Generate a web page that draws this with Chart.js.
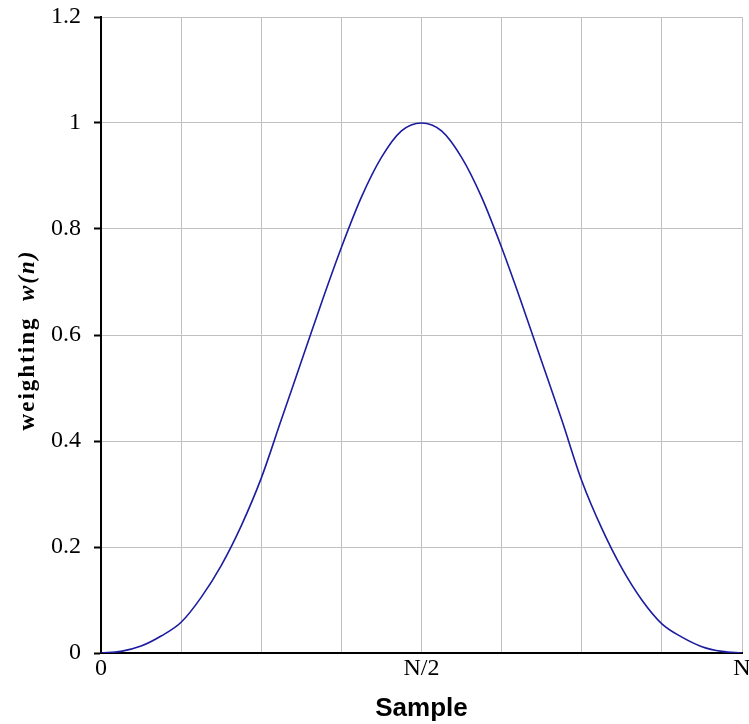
<!DOCTYPE html>
<html>
<head>
<meta charset="utf-8">
<script src="https://cdn.jsdelivr.net/npm/chart.js@4.4.1/dist/chart.umd.min.js"></script>
<style>
html,body{margin:0;padding:0;background:#fff;}
#wrap{position:relative;width:749px;height:724px;}
</style>
</head>
<body>
<div id="wrap"><canvas id="c" width="749" height="724"></canvas></div>
<script>
// Sample index (0..32 => 0..N)
const samples = [0,1,2,3,4,5,6,7,8,9,10,11,12,13,14,15,16,17,18,19,20,21,22,23,24,25,26,27,28,29,30,31,32];
// weighting w(n)
const weights = [0.000,0.003,0.013,0.032,0.058,0.105,0.165,0.240,0.330,0.440,0.550,0.660,0.765,0.860,0.935,0.985,1.000,
                 0.985,0.935,0.860,0.765,0.660,0.550,0.440,0.325,0.235,0.160,0.100,0.055,0.030,0.012,0.003,0.000];
const xTickValues = [0,16,32];
const xTickLabels = ['0','N/2','N'];
const xGridValues = [0,4,8,12,16,20,24,28,32];
const yTickValues = [0,0.2,0.4,0.6,0.8,1,1.2];
const yTitleParts = ['weighting  ','w(n)'];
const xTitle = 'Sample';

const yTitlePlugin = {
  id:'yTitle',
  afterDraw(chart){
    const ctx = chart.ctx;
    ctx.save();
    ctx.translate(28, 340);
    ctx.rotate(-Math.PI/2);
    ctx.fillStyle = '#000';
    ctx.textBaseline = 'middle';
    ctx.textAlign = 'left';
    let scaleX = 1;
    if ('letterSpacing' in ctx) { ctx.letterSpacing = '2px'; } else { scaleX = 1.17; }
    const f1 = 'bold 23px "Liberation Serif", "Times New Roman", serif';
    const f2 = 'italic bold 23px "Liberation Serif", "Times New Roman", serif';
    ctx.font = f1; const w1 = ctx.measureText(yTitleParts[0]).width;
    ctx.font = f2; const w2 = ctx.measureText(yTitleParts[1]).width;
    ctx.scale(scaleX, 1);
    const x = -(w1 + w2) / 2;
    ctx.font = f1; ctx.fillText(yTitleParts[0], x, 0);
    ctx.font = f2; ctx.fillText(yTitleParts[1], x + w1, 0);
    ctx.restore();
  }
};

new Chart(document.getElementById('c'), {
  type:'line',
  data:{
    datasets:[{
      data: samples.map((s,i)=>({x:s,y:weights[i]})),
      borderColor:'#1c1ca0',
      borderWidth:1.6,
      pointRadius:0,
      cubicInterpolationMode:'monotone',
      fill:false
    }]
  },
  plugins:[yTitlePlugin],
  options:{
    responsive:false,
    animation:false,
    layout:{padding:{left:0,right:7,top:17,bottom:0}},
    plugins:{legend:{display:false},tooltip:{enabled:false}},
    scales:{
      x:{
        type:'linear', min:0, max:32,
        afterBuildTicks(scale){ scale.ticks = xGridValues.map(v=>({value:v})); },
        afterFit(scale){ scale.height = 71; scale.paddingLeft = 0; scale.paddingRight = 0; },
        ticks:{
          autoSkip:false, maxRotation:0, minRotation:0, padding:1,
          color:'#000',
          font:{family:'"Liberation Serif", "Times New Roman", serif', size:24},
          callback(v){ const i = xTickValues.indexOf(v); return i>=0 ? xTickLabels[i] : ''; }
        },
        grid:{color:'#c0c0c0', lineWidth:1, drawTicks:false},
        border:{color:'#000', width:2},
        title:{display:true, text:xTitle, color:'#000', padding:{top:0,bottom:0},
          font:{family:'"Liberation Sans", Arial, sans-serif', size:26, weight:'bold'}}
      },
      y:{
        min:0, max:1.2,
        afterBuildTicks(scale){ scale.ticks = yTickValues.map(v=>({value:v})); },
        afterFit(scale){ scale.width = 101; scale.paddingTop = 0; scale.paddingBottom = 0; },
        ticks:{
          color:'#000', padding:13,
          font:{family:'"Liberation Serif", "Times New Roman", serif', size:24},
          callback(v){ return String(Math.round(v*10)/10); }
        },
        grid:{color:'#c0c0c0', lineWidth:1, tickLength:7, tickColor:'#000', tickWidth:2},
        border:{color:'#000', width:2}
      }
    }
  }
});
</script>
</body>
</html>
